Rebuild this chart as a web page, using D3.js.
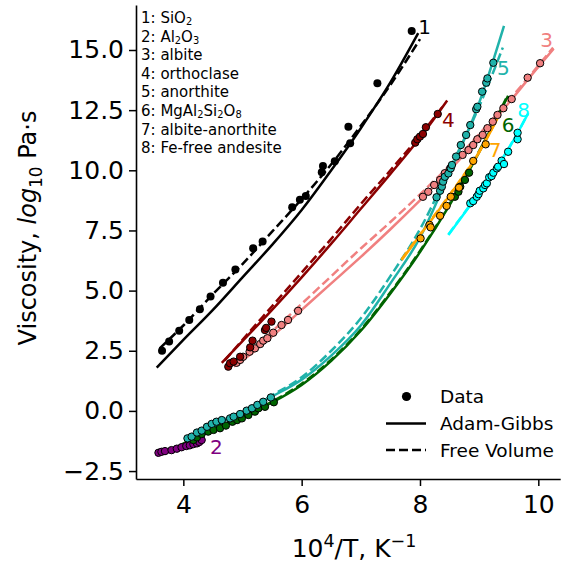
<!DOCTYPE html>
<html><head><meta charset="utf-8">
<script src="https://cdn.jsdelivr.net/npm/d3@7"></script>
<style>body{margin:0;background:#fff} svg{display:block;font-family:"DejaVu Sans",sans-serif}</style>
</head><body><svg id="c" width="566" height="564"></svg>
<script>
// ---------- ticks ----------
const xTicks = [4, 6, 8, 10];
const yTicks = [-2.5, 0, 2.5, 5, 7.5, 10, 12.5, 15];

// ---------- series names ----------
const seriesLabels = ["1: SiO2", "2: Al2O3", "3: albite", "4: orthoclase", "5: anorthite", "6: MgAl2Si2O8", "7: albite-anorthite", "8: Fe-free andesite"];

// ---------- data (10^4/T, log10 viscosity) ----------
const sio2Data = [[3.64,2.50],[3.76,2.88],[3.93,3.33],[4.10,3.78],[4.28,4.22],[4.46,4.75],[4.67,5.33],[4.88,5.88],[5.18,6.76],[5.34,7.04],[5.84,8.46],[5.97,8.78],[6.07,8.93],[6.34,9.92],[6.36,10.18],[6.56,10.38],[6.79,11.81],[6.82,11.12],[7.28,13.62],[7.86,15.79]];
const sio2AG = [[3.55,1.8],[4.0,2.95],[4.5,4.2],[5.0,5.55],[5.5,6.9],[6.0,8.35],[6.5,10.0],[7.0,11.75],[7.5,13.65],[7.97,15.7]];
const sio2FV = [[3.6,2.6],[4.0,3.55],[4.5,4.85],[5.0,6.1],[5.5,7.45],[6.0,8.8],[6.5,10.25],[7.0,11.85],[7.5,13.55],[8.0,15.45]];

const al2o3Data = [[3.58,-1.74],[3.63,-1.70],[3.69,-1.67],[3.80,-1.63],[3.89,-1.57],[3.97,-1.51],[4.05,-1.46],[4.11,-1.43],[4.17,-1.38],[4.23,-1.35],[4.27,-1.29],[4.31,-1.21]];
const al2o3AG = [[3.55,-1.85],[3.9,-1.62],[4.3,-1.33]];
const al2o3FV = [[3.55,-1.83],[3.9,-1.6],[4.3,-1.31]];

const albiteData = [[4.90,2.00],[4.96,2.12],[5.01,2.25],[5.12,2.46],[5.21,2.60],[5.30,2.78],[5.35,2.92],[5.42,3.02],[5.52,3.25],[5.66,3.57],[5.77,3.78],[5.94,4.16],
  [8.05,8.90],[8.14,9.11],[8.24,9.39],[8.34,9.60],[8.42,9.88],[8.51,10.08],[8.72,10.64],[8.82,10.84],[8.90,11.05],[8.97,11.29],[9.06,11.47],[9.14,11.75],[9.23,12.02],[9.31,12.30],[9.41,12.58],[9.55,12.96],[9.82,13.85],[10.03,14.45]];
const albiteAG = [[4.85,1.85],[5.0,2.1],[5.5,3.1],[6.0,4.2],[6.5,5.3],[7.0,6.4],[7.5,7.55],[8.0,8.75],[8.5,10.0],[9.0,11.35],[9.5,12.8],[10.0,14.3],[10.26,15.05]];
const albiteFV = [[4.9,1.95],[5.5,3.3],[6.0,4.45],[6.5,5.6],[7.0,6.75],[7.5,7.85],[8.0,9.0],[8.5,10.2],[9.0,11.5],[9.5,12.9],[10.0,14.35],[10.25,15.1]];

const orthoData = [[4.76,1.84],[4.79,1.98],[4.85,2.05],[4.96,2.25],[5.13,2.64],[5.17,2.92],[5.38,3.36],[5.40,3.45],[5.49,3.71],
  [7.92,11.15],[7.955,11.29],[8.0,11.40],[8.05,11.51],[8.10,11.79],[8.30,12.34]];
const orthoAG = [[4.65,2.0],[5.0,2.9],[5.5,4.2],[6.0,5.55],[6.5,6.95],[7.0,8.4],[7.5,9.85],[8.0,11.35],[8.46,12.9]];
const orthoFV = [[4.7,2.1],[5.0,2.95],[5.5,4.35],[6.0,5.75],[6.5,7.15],[7.0,8.6],[7.5,10.0],[8.0,11.45],[8.4,12.7]];

const anorData = [[4.07,-1.14],[4.14,-1.07],[4.23,-0.90],[4.31,-0.82],[4.40,-0.66],[4.48,-0.54],[4.56,-0.45],[4.65,-0.38],[4.79,-0.31],[4.85,-0.24],[4.96,-0.13],[5.07,0.01],[5.16,0.11],[5.25,0.25],[5.35,0.38],[5.48,0.56],
  [8.28,8.88],[8.34,9.15],[8.37,9.32],[8.39,9.53],[8.42,9.73],[8.48,9.87],[8.52,10.08],[8.54,10.22],[8.61,10.57],[8.69,11.05],[8.78,11.47],[8.85,11.88],[8.95,12.54],[8.97,12.64],[9.05,13.27],[9.12,13.64],[9.14,13.82],[9.24,14.47]];
const anorAG = [[4.05,-1.3],[4.5,-0.65],[5.0,-0.05],[5.5,0.6],[6.0,1.3],[6.5,2.3],[7.0,3.55],[7.5,5.3],[8.0,7.2],[8.5,9.9],[9.0,12.8],[9.42,16.0]];
const anorFV = [[4.05,-1.25],[4.5,-0.6],[5.0,0.0],[5.5,0.65],[6.0,1.4],[6.5,2.5],[7.0,3.85],[7.5,5.6],[8.0,7.55],[8.5,10.05],[9.0,12.65],[9.4,15.1]];

const mgData = [[4.17,-1.21],[4.23,-1.10],[4.31,-0.96],[4.42,-0.86],[4.51,-0.79],[4.62,-0.72],[4.72,-0.61],[4.83,-0.45],[4.91,-0.38],[4.99,-0.31],[5.10,-0.17],[5.21,-0.03],[5.27,0.11],[5.38,0.17],[5.53,0.36],
  [8.59,8.90],[8.65,9.11],[8.68,9.32],[8.76,9.60],[8.83,9.90]];
const mgAG = [[3.95,-1.45],[4.5,-0.78],[5.0,-0.25],[5.5,0.35],[6.0,1.08],[6.5,2.08],[7.0,3.33],[7.5,4.88],[8.0,6.6],[8.5,8.55],[9.0,10.75],[9.49,13.1]];
const mgFV = [[3.95,-1.42],[4.5,-0.74],[5.0,-0.21],[5.5,0.39],[6.0,1.13],[6.5,2.13],[7.0,3.38],[7.5,4.93],[8.0,6.65],[8.5,8.6],[9.0,10.8],[9.47,13.05]];

const abanData = [[8.01,7.17],[8.16,7.73],[8.18,7.63],[8.34,8.11],[8.45,8.52],[8.52,8.90],[8.66,9.28],[8.90,10.39],[9.11,11.08]];
const abanAG = [[7.69,6.27],[8.0,7.3],[8.5,8.95],[9.0,10.75],[9.31,12.16]];
const abanFV = [[7.69,6.3],[8.0,7.33],[8.5,8.98],[9.0,10.78],[9.3,12.12]];

const andData = [[8.85,8.63],[8.90,8.72],[8.96,8.90],[8.99,9.01],[9.01,9.15],[9.07,9.25],[9.10,9.39],[9.13,9.46],[9.17,9.71],[9.21,9.76],[9.24,9.90],[9.30,10.08],[9.32,10.15],[9.38,10.40],[9.42,10.26],[9.49,10.77],[9.65,11.29],[9.65,11.56]];
const andAG = [[8.48,7.31],[8.85,8.55],[9.2,9.75],[9.5,10.9],[9.83,12.37]];
const andFV = [[8.48,7.33],[8.85,8.57],[9.2,9.77],[9.5,10.92],[9.82,12.33]];

// ---------- styles ----------
const colors = {sio2:"#000000", al2o3:"#800080", albite:"#F08080", ortho:"#8B0000", anor:"#20B2AA", mg:"#006400", aban:"#FFA500", and:"#00FFFF"};
const series = [
  {k:"sio2", d:sio2Data, ag:sio2AG, fv:sio2FV, lab:"1", lx:8.08, ly:15.95},
  {k:"al2o3", d:al2o3Data, ag:al2o3AG, fv:al2o3FV, lab:"2", lx:4.56, ly:-1.5},
  {k:"albite", d:albiteData, ag:albiteAG, fv:albiteFV, lab:"3", lx:10.14, ly:15.42},
  {k:"ortho", d:orthoData, ag:orthoAG, fv:orthoFV, lab:"4", lx:8.48, ly:12.09},
  {k:"mg", d:mgData, ag:mgAG, fv:mgFV, lab:"6", lx:9.49, ly:11.88},
  {k:"anor", d:anorData, ag:anorAG, fv:anorFV, lab:"5", lx:9.41, ly:14.24},
  {k:"aban", d:abanData, ag:abanAG, fv:abanFV, lab:"7", lx:9.27, ly:10.84},
  {k:"and", d:andData, ag:andAG, fv:andFV, lab:"8", lx:9.75, ly:12.51}
];

const svg = d3.select("#c");
const x = d3.scaleLinear().domain([3.2, 10.37]).range([136, 560.2]);
const y = d3.scaleLinear().domain([-2.83, 16.87]).range([479, 5]);

// axes
const gx = svg.append("g").attr("transform","translate(0,479)")
  .call(d3.axisBottom(x).tickValues(xTicks).tickSize(7).tickSizeOuter(0).tickPadding(9).tickFormat(d3.format("d")));
const gy = svg.append("g").attr("transform","translate(136,0)")
  .call(d3.axisLeft(y).tickValues(yTicks).tickSize(7).tickSizeOuter(0).tickPadding(5).tickFormat(d3.format(".1f")));
[gx,gy].forEach(g=>{
  g.attr("font-family","DejaVu Sans").attr("font-size",25);
  g.select(".domain").attr("stroke","#000").attr("stroke-width",1.6);
  g.selectAll(".tick line").attr("stroke","#000").attr("stroke-width",1.5);
  g.selectAll(".tick text").attr("fill","#000");
});

// curves
const line = d3.line().x(d=>x(d[0])).y(d=>y(d[1])).curve(d3.curveMonotoneX);
const curves = svg.append("g").attr("fill","none").attr("stroke-width",2.5);
series.forEach(s=>{
  curves.append("path").attr("d",line(s.ag)).attr("stroke",colors[s.k]);
  curves.append("path").attr("d",line(s.fv)).attr("stroke",colors[s.k]).attr("stroke-dasharray","9,4");
});

// points
const pts = svg.append("g");
series.forEach(s=>{
  pts.selectAll(null).data(s.d).enter().append("circle")
    .attr("cx",d=>x(d[0])).attr("cy",d=>y(d[1]))
    .attr("r", s.k==="sio2"?4:3.7)
    .attr("fill",colors[s.k])
    .attr("stroke", s.k==="sio2"?"none":"#000").attr("stroke-width",1);
});

// number labels
svg.append("g").attr("font-size",20).attr("text-anchor","middle")
  .selectAll("text").data(series).enter().append("text")
  .attr("x",s=>x(s.lx)).attr("y",s=>y(s.ly)+7)
  .attr("fill",s=>colors[s.k]).text(s=>s.lab);

// rich text helper
function rich(sel, parts, fs, subShift, subScale){
  let off = 0;
  const sc = subScale || 0.7;
  parts.forEach(([t,m])=>{
    const ts = sel.append("tspan").text(t);
    let target = 0;
    if(m==="sub"){ target = subShift!=null ? subShift : fs*0.25; ts.attr("font-size",fs*sc); }
    else if(m==="sup"){ target = -fs*0.4; ts.attr("font-size",fs*sc); }
    else if(m==="it"){ ts.attr("font-style","italic"); }
    ts.attr("dy", target-off);
    off = target;
  });
}
function parseChem(str){
  const m = str.match(/^(\d: )(.*)$/);
  const parts = [[m[1],""]];
  const body = m[2];
  if(/^[A-Z]/.test(body) && /[a-z]?\d/.test(body) && !/-/.test(body)){
    body.split(/(\d+)/).forEach((p,i)=>{ if(p) parts.push([p, i%2? "sub":""]); });
  } else parts.push([body,""]);
  return parts;
}
const legBase = [23, 41.6, 60.2, 78.8, 97.4, 116, 134.6, 153.2];
seriesLabels.forEach((l,i)=>{
  const t = svg.append("text").attr("x",141).attr("y",legBase[i]).attr("font-size",15).attr("fill","#000");
  rich(t, parseChem(l), 15, 2.2, 0.66);
});

// bottom legend
const lg = svg.append("g").attr("font-size",18.5).attr("fill","#000");
lg.append("circle").attr("cx",406.5).attr("cy",396.5).attr("r",4.6).attr("fill","#000");
lg.append("text").attr("x",440).attr("y",403).text("Data");
lg.append("line").attr("x1",386).attr("x2",426).attr("y1",423.5).attr("y2",423.5).attr("stroke","#000").attr("stroke-width",2.5);
lg.append("text").attr("x",440).attr("y",430).text("Adam-Gibbs");
lg.append("line").attr("x1",386).attr("x2",426).attr("y1",450).attr("y2",450).attr("stroke","#000").attr("stroke-width",2.5).attr("stroke-dasharray","9,4");
lg.append("text").attr("x",440).attr("y",456.5).text("Free Volume");

// axis labels
const yl = svg.append("text").attr("transform","translate(36,228) rotate(-90)").attr("text-anchor","middle").attr("font-size",24).attr("fill","#000");
rich(yl, [["Viscosity, ",""],["log","it"],["10","sub"],[" Pa·s",""]], 24);
const xl = svg.append("text").attr("x",354).attr("y",557).attr("text-anchor","middle").attr("font-size",25).attr("fill","#000");
rich(xl, [["10",""],["4","sup"],["/T, K",""],["−1","sup"]], 25);
</script></body></html>
